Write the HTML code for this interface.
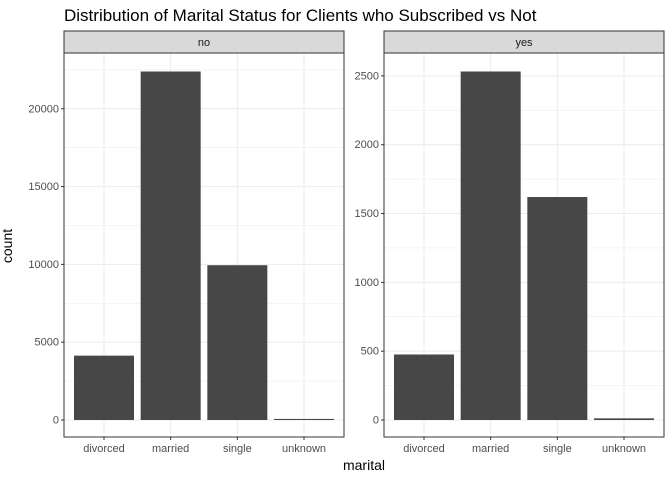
<!DOCTYPE html>
<html><head><meta charset="utf-8"><style>
body{margin:0;background:#fff;font-family:"Liberation Sans",Arial,sans-serif}
</style></head><body>
<svg id="c" width="672" height="480" xmlns="http://www.w3.org/2000/svg" font-family="Liberation Sans, Arial, sans-serif">
<text x="64" y="21" font-size="17" fill="#000">Distribution of Marital Status for Clients who Subscribed vs Not</text>
<text x="12" y="246" font-size="14" transform="rotate(-90 12 246)" text-anchor="middle">count</text>
<text x="364" y="470" font-size="14" text-anchor="middle">marital</text>
</svg>
<script>
const categories=["divorced","married","single","unknown"];
const noValues=[4136,22396,9948,68];
const yesValues=[476,2532,1620,12];
const noTicks=[0,5000,10000,15000,20000];
const yesTicks=[0,500,1000,1500,2000,2500];
const NS="http://www.w3.org/2000/svg";
const svg=document.getElementById('c');
function mk(tag,attrs,parent){const e=document.createElementNS(NS,tag);for(const k in attrs)e.setAttribute(k,attrs[k]);(parent||svg).appendChild(e);return e;}
function panel(x0,label,values,ticks,maxV,name){
  const top=53,bot=437,w=280,y0=420;
  const yTopV=maxV; const yTopPx=71.5;
  const sy=v=>y0-(v/yTopV)*(y0-yTopPx);
  const band=w/4.2;
  const sx=i=>x0+band*(0.6+i);
  const g=mk('g',{});
  
  
  mk('rect',{x:x0,y:top,width:w,height:bot-top,fill:'#fff'},g);
  // minor grid
  for(let i=0;i<ticks.length;i++){
    const mid=ticks[i]+(ticks[1]-ticks[0])/2;const yy=sy(mid);
    if(yy>top) mk('line',{x1:x0,x2:x0+w,y1:yy,y2:yy,stroke:'#ebebeb','stroke-width':0.5},g);
  }
  ticks.forEach(t=>{const yy=sy(t);
    mk('line',{x1:x0,x2:x0+w,y1:yy,y2:yy,stroke:'#ebebeb','stroke-width':1},g);
    mk('line',{x1:x0-3,x2:x0,y1:yy,y2:yy,stroke:'#333','stroke-width':1},g);
    const tx=mk('text',{x:x0-5,y:yy+3.5,'font-size':11,fill:'#4d4d4d','text-anchor':'end'},g);
    tx.textContent=t;
    
    
  });
  categories.forEach((c,i)=>{const cx=sx(i);
    mk('line',{x1:cx,x2:cx,y1:top,y2:bot,stroke:'#ebebeb','stroke-width':1},g);
  });
  categories.forEach((c,i)=>{const cx=sx(i);
    const b=mk('rect',{x:cx-band*0.45,y:sy(values[i]),width:band*0.9,height:y0-sy(values[i]),fill:'#474747'},g);
    
    
    mk('line',{x1:cx,x2:cx,y1:bot,y2:bot+3,stroke:'#333'},g);
    const tx=mk('text',{x:cx,y:bot+15,'font-size':11,fill:'#4d4d4d','text-anchor':'middle'},g);
    tx.textContent=c;
    
    
  });
  mk('rect',{x:x0,y:top,width:w,height:bot-top,fill:'none',stroke:'#333','stroke-width':1},g);
  const s=mk('rect',{x:x0,y:31,width:w,height:22,fill:'#d9d9d9',stroke:'#333','stroke-width':1},g);
  
  
  const st=mk('text',{x:x0+w/2,y:46,'font-size':11,fill:'#1a1a1a','text-anchor':'middle'},g);
  st.textContent=label;
  
  
}
panel(64,"no",noValues,noTicks,22396,"no");
panel(384,"yes",yesValues,yesTicks,2532,"yes");
</script>
</body></html>
